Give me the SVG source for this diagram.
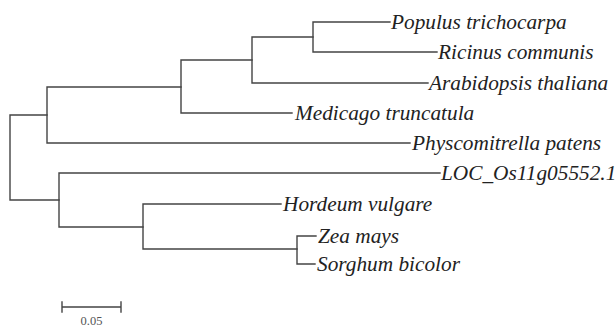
<svg xmlns="http://www.w3.org/2000/svg" width="616" height="329" viewBox="0 0 616 329">
<style>
.br{fill:none;stroke:#444;stroke-width:1.4;stroke-linecap:square}
.lb{font-family:"Liberation Serif","Times New Roman",serif;font-style:italic;font-size:21.3px;fill:#222}
.sc{font-family:"Liberation Serif","Times New Roman",serif;font-size:12.5px;fill:#555;text-anchor:middle}
</style>
<rect width="616" height="329" fill="#fff"/>
<g id="connectors" class="br">
<path d="M10 115V200M10 115H47M10 200H59"/>
<path d="M47 87V143M47 87H181M47 143H410"/>
<path d="M181 60V113M181 60H252M181 113H292"/>
<path d="M252 37V83M252 37H313M252 83H428"/>
<path d="M313 22V52M313 22H390M313 52H437"/>
<path d="M59 173V227M59 173H440M59 227H143"/>
<path d="M143 204V249M143 204H281M143 249H297"/>
<path d="M297 236V264M297 236H316M297 264H315"/>
</g>
<g id="populus"><text class="lb" x="391" y="29">Populus trichocarpa</text></g>
<g id="ricinus"><text class="lb" x="438" y="59">Ricinus communis</text></g>
<g id="arabidopsis"><text class="lb" x="429" y="90">Arabidopsis thaliana</text></g>
<g id="medicago"><text class="lb" x="295" y="120">Medicago truncatula</text></g>
<g id="physcomitrella"><text class="lb" x="412" y="150">Physcomitrella patens</text></g>
<g id="loc"><text class="lb" x="441" y="180">LOC_Os11g05552.1</text></g>
<g id="hordeum"><text class="lb" x="283" y="211">Hordeum vulgare</text></g>
<g id="zea"><text class="lb" x="318" y="243">Zea mays</text></g>
<g id="sorghum"><text class="lb" x="317" y="271">Sorghum bicolor</text></g>
<g id="scale">
<path class="br" d="M62 307H121M62 302V312M121 302V312"/>
<text class="sc" x="91.5" y="325">0.05</text>
</g>
</svg>
